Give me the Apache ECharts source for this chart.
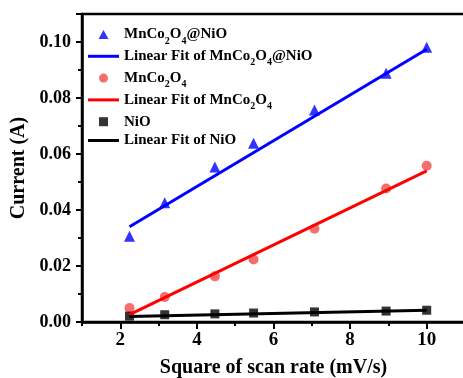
<!DOCTYPE html>
<html>
<head>
<meta charset="utf-8">
<script src="https://cdn.jsdelivr.net/npm/echarts@6/dist/echarts.min.js"></script>
<style>html,body{margin:0;padding:0;background:#fff}#c{width:463px;height:378px}</style>
</head>
<body>
<div id="c"></div>
<script>
// Data
const scanRoot = [2.24, 3.16, 4.47, 5.48, 7.07, 8.94, 10];
const compositeCurrent = [0.0306, 0.0426, 0.0554, 0.0638, 0.0757, 0.0888, 0.0981];
const mnco2o4Current = [0.0050, 0.0089, 0.0163, 0.0223, 0.0333, 0.0477, 0.0558];
const nioCurrent = [0.0021, 0.0026, 0.0029, 0.0032, 0.0036, 0.0039, 0.0042];
const fitX = [2.24, 10];
const compositeFit = [0.0340, 0.0974];
const mnco2o4Fit = [0.0026, 0.0540];
const nioFit = [0.0020, 0.0042];
const xMajorTicks = [2, 4, 6, 8, 10];
const xMinorTicks = [1, 3, 5, 7, 9, 11];
const names = ['MnCo2O4@NiO', 'Linear Fit of MnCo2O4@NiO', 'MnCo2O4', 'Linear Fit of MnCo2O4', 'NiO', 'Linear Fit of NiO'];

const pairs = (xs, ys) => xs.map((x, i) => [x, ys[i]]);
const FONT = 'Liberation Serif';
const ICON_TRI = 'path://M5,0L10,9L0,9Z';
const ICON_RECT = 'path://M0,0H10V10H0Z';
const ICON_LINE = 'path://M0,0H31V3H0Z';

const chart = echarts.init(document.getElementById('c'));
chart.setOption({
  animation: false,
  grid: { left: 82, top: 14, width: 383, height: 308, outerBoundsMode: 'none', containLabel: false,
          show: true, borderWidth: 2.5, borderColor: '#000' },
  legend: {
    orient: 'vertical', left: 88, top: 26, padding: 0,
    itemWidth: 31, itemHeight: 9, itemGap: 1.8,
    symbolKeepAspect: true,
    data: [
      { name: names[0], icon: ICON_TRI },
      { name: names[1], icon: ICON_LINE },
      { name: names[2], icon: 'circle' },
      { name: names[3], icon: ICON_LINE },
      { name: names[4], icon: ICON_RECT },
      { name: names[5], icon: ICON_LINE }
    ],
    formatter: n => n.replace(/Co2O4/g, 'Co{s|2}O{s|4}'),
    textStyle: {
      fontFamily: FONT, fontWeight: 'bold', fontSize: 15, color: '#000', lineHeight: 17,
      rich: { s: { fontFamily: FONT, fontWeight: 'bold', fontSize: 10, verticalAlign: 'bottom', lineHeight: 17, padding: [0, 0, -3, 0] } }
    }
  },
  xAxis: [{
    type: 'value', min: 1, max: 11,
    name: 'Square of scan rate (mV/s)', nameLocation: 'middle', nameGap: 36,
    nameTextStyle: { fontFamily: FONT, fontWeight: 'bold', fontSize: 20, color: '#000' },
    axisLine: { show: true, onZero: false, lineStyle: { color: '#000', width: 2.5 } },
    axisTick: { show: true, inside: false, length: 7, customValues: xMajorTicks, lineStyle: { color: '#000', width: 2 } },
    axisLabel: { customValues: xMajorTicks, margin: 9, fontFamily: FONT, fontWeight: 'bold', fontSize: 19, color: '#000' },
    splitLine: { show: false }
  }, {
    type: 'value', min: 1, max: 11, position: 'bottom',
    axisLine: { show: false },
    axisTick: { show: true, length: 4, customValues: xMinorTicks, lineStyle: { color: '#000', width: 2 } },
    axisLabel: { show: false },
    splitLine: { show: false }
  }],
  yAxis: {
    type: 'value', min: 0, max: 0.11, interval: 0.02,
    name: 'Current (A)', nameLocation: 'middle', nameGap: 45,
    nameTextStyle: { fontFamily: FONT, fontWeight: 'bold', fontSize: 20, color: '#000' },
    axisLine: { show: true, onZero: false, lineStyle: { color: '#000', width: 2.5 } },
    axisTick: { show: true, length: 6, lineStyle: { color: '#000', width: 2 } },
    minorTick: { show: true, splitNumber: 2, length: 4, lineStyle: { color: '#000', width: 2 } },
    axisLabel: { showMaxLabel: false, margin: 11, fontFamily: FONT, fontWeight: 'bold', fontSize: 18, color: '#000',
      formatter: v => v.toFixed(2) },
    splitLine: { show: false }
  },
  series: [
    { name: names[0], type: 'scatter', symbol: 'triangle', symbolSize: 11, itemStyle: { color: '#0000ff' }, data: pairs(scanRoot, compositeCurrent), z: 3 },
    { name: names[1], type: 'line', symbol: 'none', lineStyle: { color: '#0000ff', width: 3 }, itemStyle: { color: '#0000ff' }, data: pairs(fitX, compositeFit), z: 4 },
    { name: names[2], type: 'scatter', symbol: 'circle', symbolSize: 10, itemStyle: { color: '#f44848' }, data: pairs(scanRoot, mnco2o4Current), z: 3 },
    { name: names[3], type: 'line', symbol: 'none', lineStyle: { color: '#ff0000', width: 3 }, itemStyle: { color: '#ff0000' }, data: pairs(fitX, mnco2o4Fit), z: 4 },
    { name: names[4], type: 'scatter', symbol: 'rect', symbolSize: 9, itemStyle: { color: '#000' }, data: pairs(scanRoot, nioCurrent), z: 3 },
    { name: names[5], type: 'line', symbol: 'none', lineStyle: { color: '#000', width: 3 }, itemStyle: { color: '#000' }, data: pairs(fitX, nioFit), z: 4 }
  ]
});
</script>
</body>
</html>
